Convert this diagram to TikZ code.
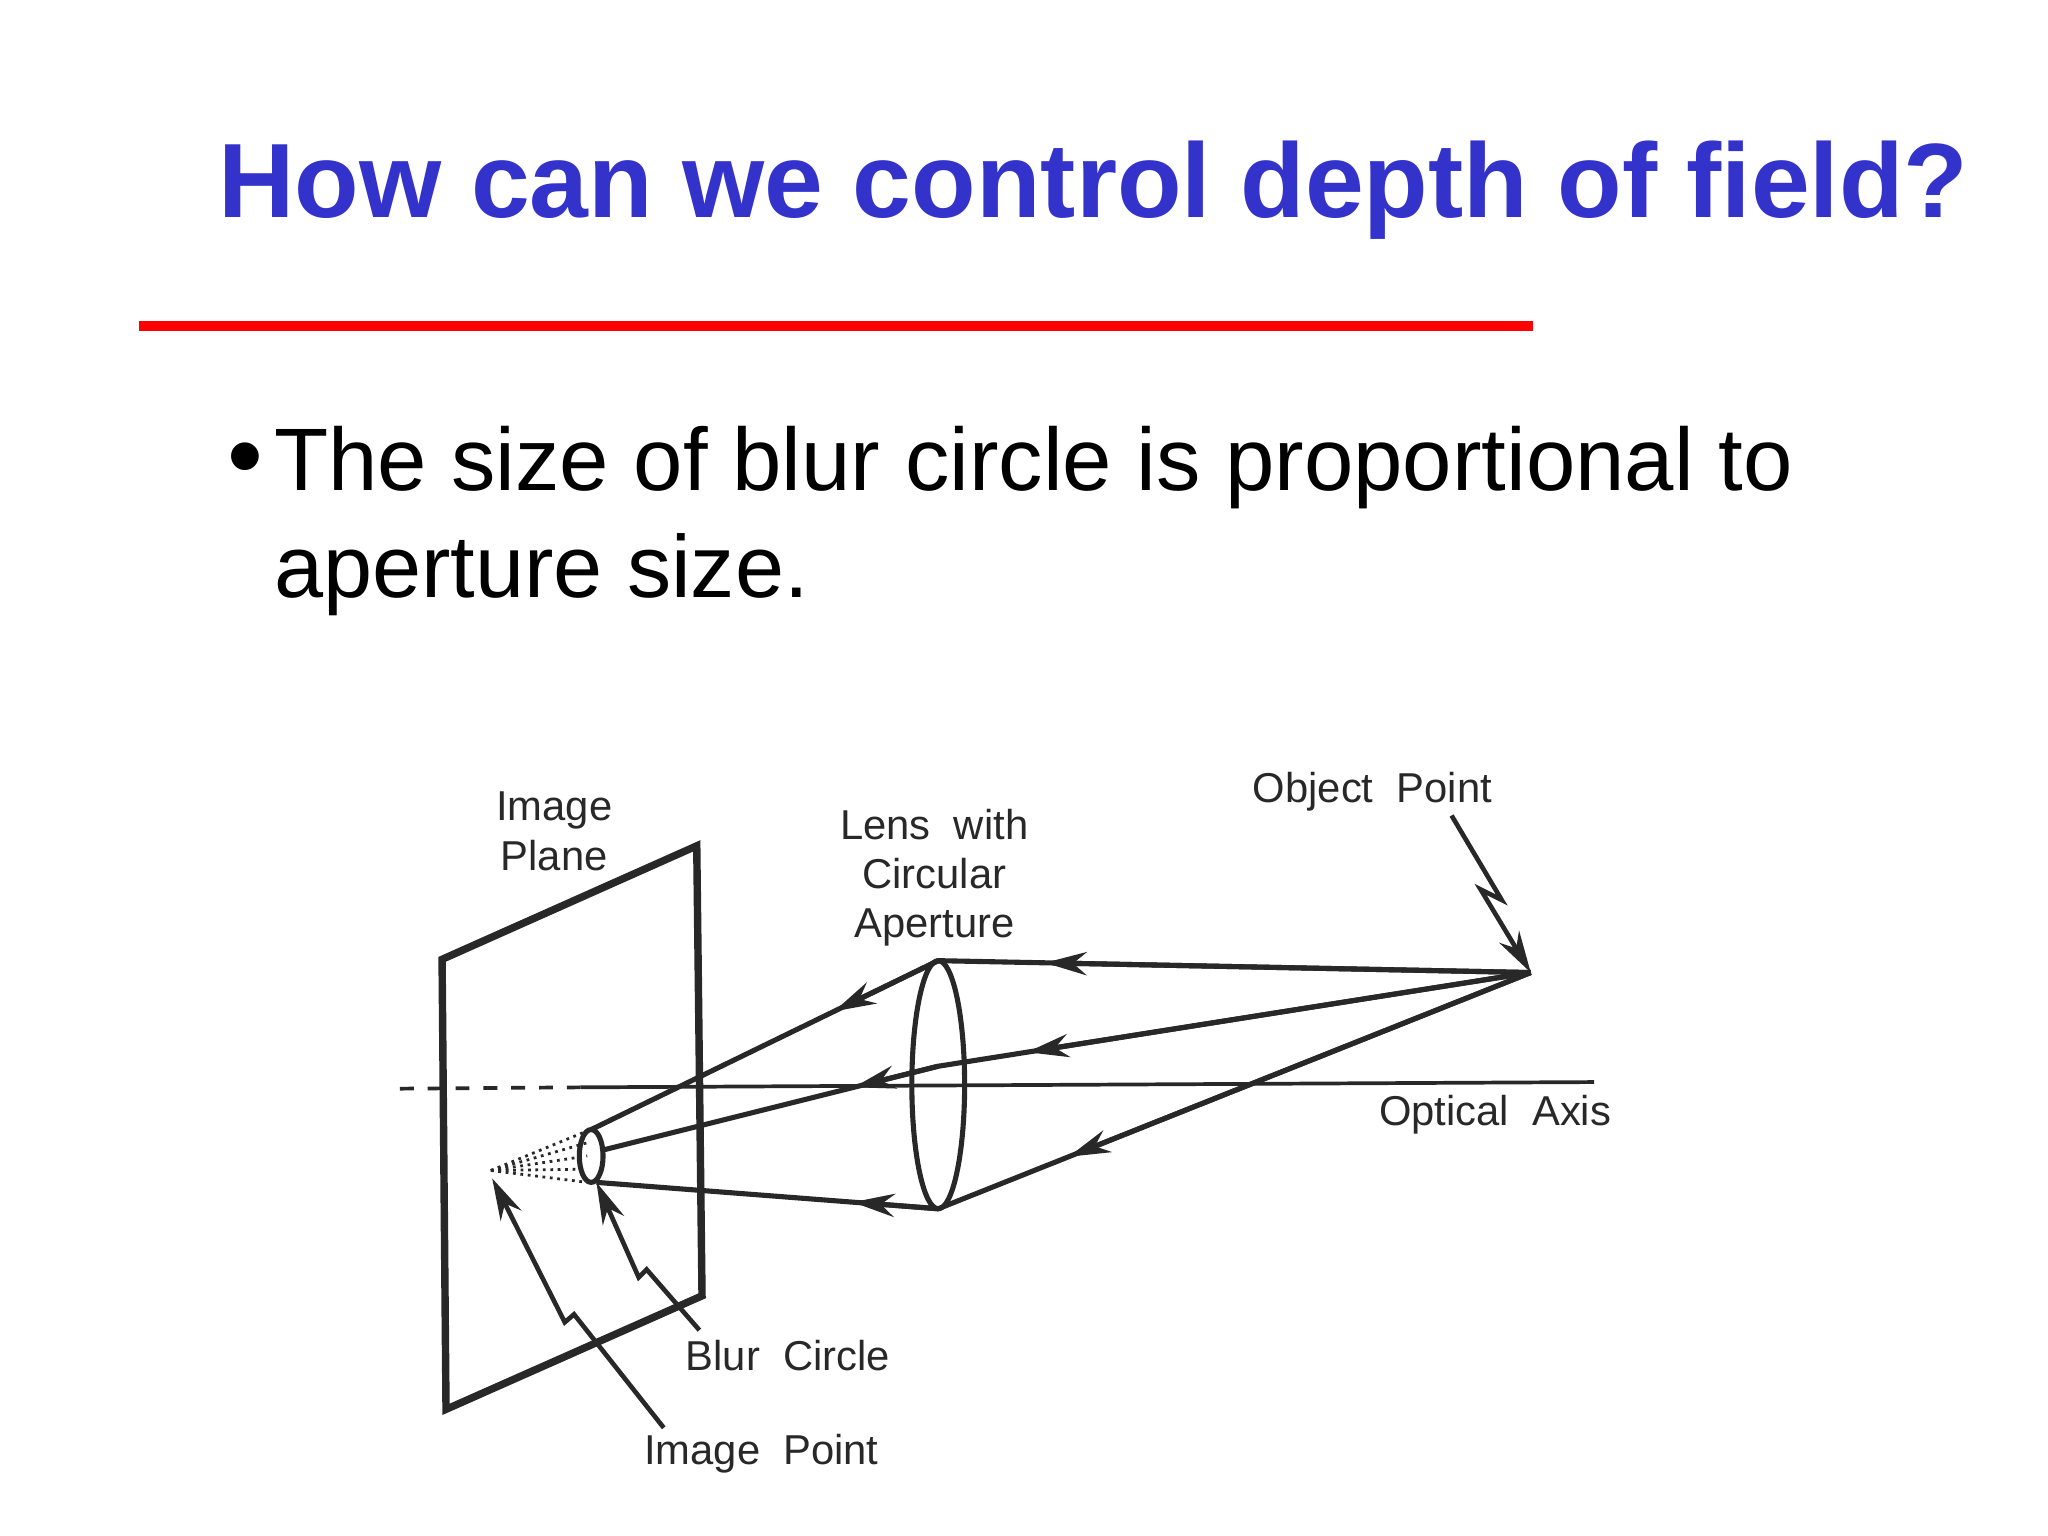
\documentclass[tikz,border=0pt]{standalone}
\usepackage{fontspec}
\setmainfont{Liberation Sans}
\usetikzlibrary{arrows.meta,calc}
\definecolor{titleblue}{RGB}{51,51,204}
\definecolor{ink}{RGB}{40,40,40}
\tikzset{
  ray/.style={ink, line width=1.1pt},
  lbl/.style={ink, font=\fontsize{9}{10.6}\selectfont, align=center},
  tip/.style={-{Stealth[length=9pt,width=5pt]}, ink, line width=1pt},
  arr/.style={-{Stealth[length=9pt,width=5pt]}, ink, line width=1.1pt},
}
\begin{document}
\begin{tikzpicture}[x=0.01cm,y=-0.01cm]
\useasboundingbox (0,0) rectangle (1552,1164);
\node[anchor=base west, inner sep=0, text=titleblue, font=\bfseries] (title) at (165,165)
  {\resizebox{13.25cm}{!}{How can we control depth of field?}};
\draw[red, line width=2pt] (105,247) -- (1162,247);
\node[anchor=base west, inner sep=0] (bul) at (172,372) {\fontsize{22}{26}\selectfont\textbullet};
\node[anchor=base west, inner sep=0] (l1) at (207,372) {\resizebox{11.5cm}{!}{The size of blur circle is proportional to}};
\node[anchor=base west, inner sep=0] (l2) at (207,453) {\resizebox{4.05cm}{!}{aperture size.}};
% image plane
\draw[ink, line width=1.6pt] (335,727) -- (528,641) -- (532,982) -- (338,1068) -- cycle;
% optical axis
\draw[ink, line width=0.8pt, dashed] (303,825) -- (440,824);
\draw[ink, line width=0.8pt] (440,824) -- (1208,820);
% lens
\draw[ink, line width=1.1pt] (711,822) ellipse [x radius=20, y radius=94];
\coordinate (obj) at (1160,737);
\coordinate (lt) at (711,728);
\coordinate (lb) at (711,916);
\coordinate (lm) at (711,808);
% blur circle
\draw[ink, line width=1.1pt] (448,876) ellipse [x radius=9, y radius=20];
\coordinate (bt) at (448,856);
\coordinate (bb) at (452,896);
\coordinate (bm) at (455,872);
\coordinate (ip) at (372,887);
% rays
\draw[ray] (obj) -- (lt);
\draw[arr] (obj) -- ($(obj)!0.82!(lt)$);
\draw[ray] (obj) -- (lm) -- (bm);
\draw[arr] (obj) -- ($(obj)!0.85!(lm)$);
\draw[arr] (lm) -- ($(lm)!0.25!(bm)$);
\draw[ray] (obj) -- (lb);
\draw[arr] (obj) -- ($(obj)!0.78!(lb)$);
\draw[ray] (lt) -- (bt);
\draw[arr] (lt) -- ($(lt)!0.3!(bt)$);
\draw[ray] (lb) -- (bb);
\draw[arr] (lb) -- ($(lb)!0.25!(bb)$);
% dotted cone
\foreach \yy in {857,866,876,886,896}
  \draw[ink, densely dotted, line width=0.6pt] (ip) -- (445,\yy);
% labels
\node[lbl] (lip) at (420,630) {Image\\Plane};
\node[lbl] (llens) at (708,665) {Lens~~with\\Circular\\Aperture};
\node[lbl] (lobj) at (1040,600) {Object~~Point};
\node[lbl] (lax) at (1133,845) {Optical~~Axis};
\node[lbl] (lbc) at (597,1027) {Blur~~Circle};
\node[lbl] (limp) at (577,1102) {Image~~Point};
% zigzag pointers
\draw[tip] (1100,618) -- (1138,682) -- (1122,674) -- (obj);
\draw[tip] (530,1008) -- (490,962) -- (484,968) -- (bb);
\draw[tip] (503,1082) -- (435,996) -- (428,1002) -- (373,893);
\end{tikzpicture}
\end{document}
